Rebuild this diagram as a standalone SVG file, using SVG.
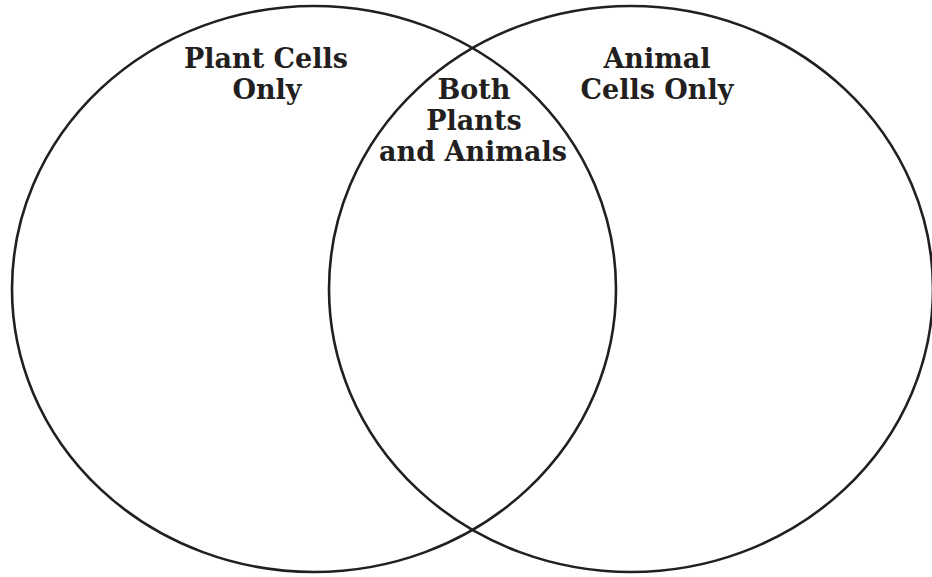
<svg xmlns="http://www.w3.org/2000/svg" width="932" height="577" viewBox="0 0 932 577">
<style>
.c{fill:none;stroke:#231f20;stroke-width:2.6}
.t{font-family:"DejaVu Serif",serif;font-weight:bold;font-size:27px;fill:#231f20;text-anchor:middle}
</style>
<rect width="932" height="577" fill="#fff"/>
<g id="left-circle"><ellipse class="c" cx="314" cy="289" rx="302" ry="283"/></g>
<g id="right-circle"><ellipse class="c" cx="631" cy="289" rx="302" ry="283"/></g>
<g id="plant-label"><text class="t" x="266" y="68">Plant Cells</text><text class="t" x="267" y="99">Only</text></g>
<g id="both-label"><text class="t" x="474" y="99">Both</text><text class="t" x="474" y="130">Plants</text><text class="t" x="473" y="161">and Animals</text></g>
<g id="animal-label"><text class="t" x="657" y="68">Animal</text><text class="t" x="657" y="99">Cells Only</text></g>
<g id="connectors"></g>
</svg>
